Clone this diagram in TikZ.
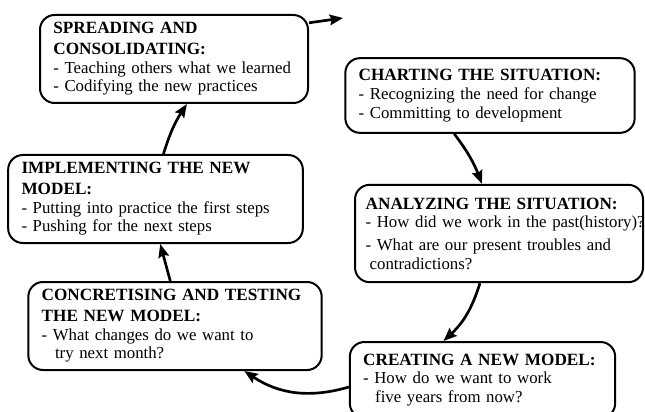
\documentclass[tikz,border=0pt]{standalone}
\usepackage{fontspec}
\setmainfont{Liberation Serif}
\usetikzlibrary{arrows.meta}
\newcommand\stagehead[1]{{\fontsize{12.9}{15.5}\selectfont\bfseries #1\par}}
\begin{document}
\begin{tikzpicture}[x=0.75pt,y=0.75pt,
    stage/.style={draw,line width=1.5pt,rounded corners=11pt,align=left,inner xsep=10pt,inner ysep=4pt,
        font=\fontsize{12.6}{14}\selectfont},
    cycle/.style={line width=2pt,-{Stealth[length=10pt,width=8pt,inset=1.5pt]}}]
    \clip (0,0) rectangle (645,411);

    \node[stage,text width=181pt,minimum height=66pt] (spread) at (174,352)
        {\stagehead{SPREADING AND\\CONSOLIDATING:}- Teaching others what we learned\\- Codifying the new practices};
    \node[stage,text width=197pt,minimum height=56pt] (chart) at (490,315.5)
        {\stagehead{CHARTING THE SITUATION:}- Recognizing the need for change\\- Committing to development};
    \node[stage,text width=201pt,minimum height=66pt] (implement) at (155.5,212)
        {\stagehead{IMPLEMENTING THE NEW\\MODEL:}- Putting into practice the first steps\\- Pushing for the next steps};
    \node[stage,inner xsep=8pt,text width=200pt,minimum height=73pt] (analyze) at (499,177.5)
        {\stagehead{ANALYZING THE SITUATION:}\mbox{- How did we work in the past(history)?}\\[3pt]- What are our present troubles and\\\hspace*{3pt}contradictions?};
    \node[stage,text width=200pt,minimum height=66pt] (concrete) at (175,85)
        {\stagehead{CONCRETISING AND TESTING\\THE NEW MODEL:}- What changes do we want to\\\hspace*{10pt}try next month?};
    \node[stage,text width=179pt,minimum height=57pt] (create) at (482.5,31)
        {\stagehead{CREATING A NEW MODEL:}- How do we want to work\\\hspace*{9pt}five years from now?};

    \coordinate (onward) at (343,393);

    % the cycle
    \draw[cycle] (spread.15) -- (onward);
    \draw[cycle] (chart.227) to[bend left=8] (analyze.109);
    \draw[cycle] (analyze.249) to[bend left=15] (create.135);
    \draw[cycle] (create.183) to[bend left=25] (concrete.327);
    \draw[cycle] (concrete.96) -- (implement.276);
    \draw[cycle] (implement.80) to[bend left=8] (spread.286);
\end{tikzpicture}
\end{document}
